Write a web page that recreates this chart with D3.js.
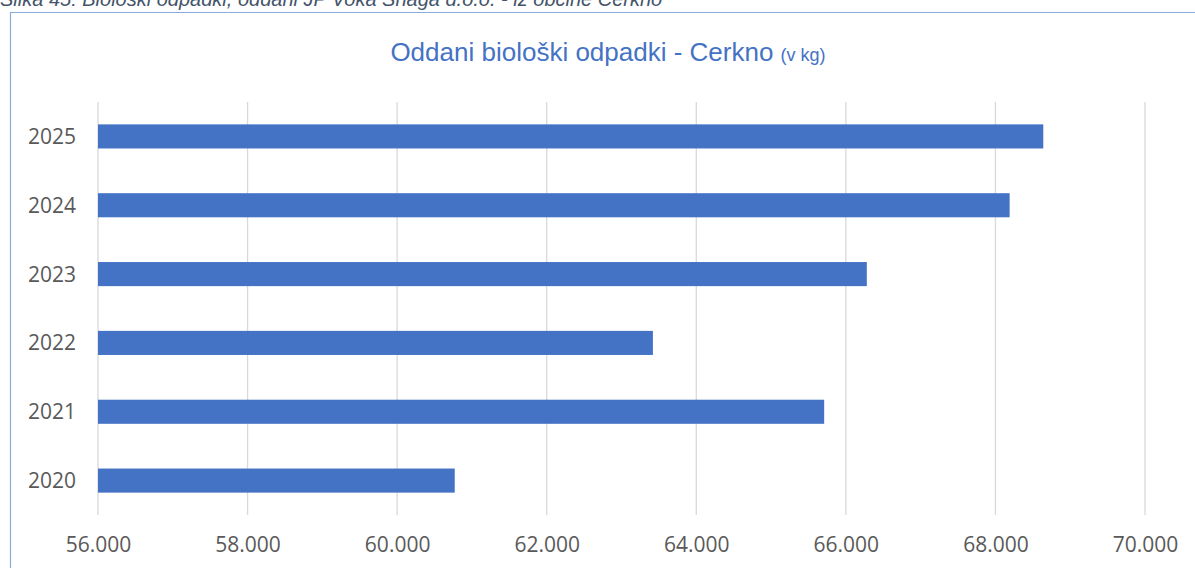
<!DOCTYPE html>
<html>
<head>
<meta charset="utf-8">
<script src="https://cdn.jsdelivr.net/npm/d3@7"></script>
<style>
  html, body { margin: 0; padding: 0; background: #fff; }
  svg { display: block; }
</style>
</head>
<body>
<svg id="chart" width="1195" height="568"></svg>
<script>
const years = ["2025", "2024", "2023", "2022", "2021", "2020"];
const values = [68640, 68190, 66280, 63420, 65710, 60770];
const xTicks = [56000, 58000, 60000, 62000, 64000, 66000, 68000, 70000];
const captionText = "Slika 45: Biološki odpadki, oddani JP Voka Snaga d.o.o. - iz občine Cerkno";
const titleMain = "Oddani biološki odpadki - Cerkno ";
const titleUnit = "(v kg)";

const svg = d3.select("#chart");
const W = 1195, H = 568;

// caption (cut off at top, as in the reference)
svg.append("text")
  .attr("x", 0).attr("y", 6)
  .attr("font-family", "Liberation Sans, Arial, sans-serif")
  .attr("font-style", "italic")
  .attr("font-size", 20)
  .attr("fill", "#44546a")
  .text(captionText);

// chart frame
svg.append("path")
  .attr("d", `M10.5,${H} L10.5,12.5 L${W},12.5`)
  .attr("fill", "none")
  .attr("stroke", "#8eaadb")
  .attr("stroke-width", 1.2);

// title
const title = svg.append("text")
  .attr("x", 608).attr("y", 61)
  .attr("text-anchor", "middle")
  .attr("font-family", "Liberation Sans Narrow, Arial Narrow, sans-serif")
  .attr("fill", "#4472c4");
title.append("tspan").attr("font-size", 26).text(titleMain);
title.append("tspan").attr("font-size", 18).text(titleUnit);

const x = d3.scaleLinear().domain([56000, 70000]).range([98, 1145]);
const y = d3.scaleBand().domain(years).range([102, 515]).paddingInner(0.65).paddingOuter(0.325);

// gridlines
svg.append("g").selectAll("line")
  .data(xTicks).join("line")
  .attr("x1", d => x(d)).attr("x2", d => x(d))
  .attr("y1", 102).attr("y2", 515)
  .attr("stroke", "#d9d9d9").attr("stroke-width", 1.3);

// bars
svg.append("g").selectAll("rect")
  .data(years.map((yr, i) => ({ yr, v: values[i] }))).join("rect")
  .attr("x", x(56000))
  .attr("y", d => y(d.yr))
  .attr("width", d => x(d.v) - x(56000))
  .attr("height", y.bandwidth())
  .attr("fill", "#4472c4");

// x axis
const fmt = d3.formatLocale({ decimal: ",", thousands: ".", grouping: [3], currency: ["", "€"] }).format(",.0f");
const xAxis = d3.axisBottom(x).tickValues(xTicks).tickFormat(fmt).tickSize(0).tickPadding(0);
const gx = svg.append("g").attr("transform", "translate(0,537)").call(xAxis);
gx.select(".domain").remove();
gx.selectAll("text")
  .attr("font-family", "Open Sans, sans-serif")
  .attr("font-size", 21)
  .attr("fill", "#595959")
  .attr("dy", "0.71em");

// y axis
const yAxis = d3.axisLeft(y).tickSize(0).tickPadding(0);
const gy = svg.append("g").attr("transform", "translate(76,0)").call(yAxis);
gy.select(".domain").remove();
gy.selectAll("text")
  .attr("font-family", "Open Sans, sans-serif")
  .attr("font-size", 21)
  .attr("fill", "#595959")
  .attr("dy", "0.36em");
</script>
</body>
</html>
